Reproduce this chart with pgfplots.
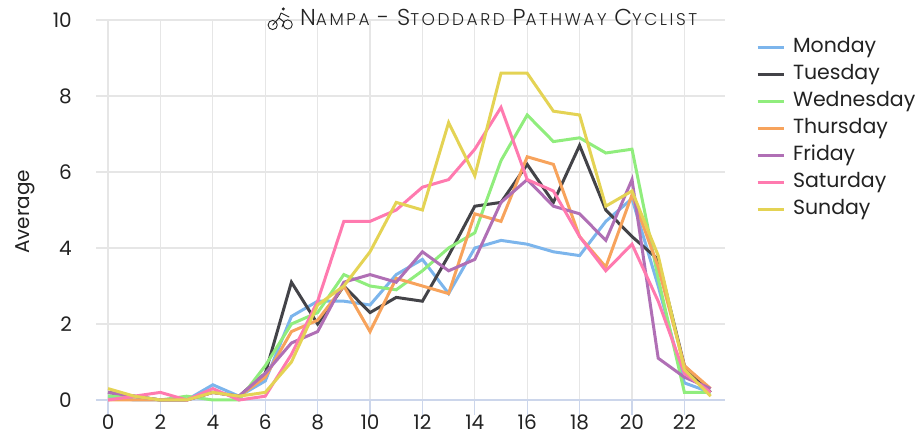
\documentclass[border=0pt]{standalone}
\usepackage{fontspec}
\usepackage{pgfplots}
\pgfplotsset{compat=1.18}
\setmainfont{Poppins}
\newfontfamily\titlefont[LetterSpace=15]{Poppins Light}
\definecolor{mon}{HTML}{7CB5EC}
\definecolor{tue}{HTML}{434348}
\definecolor{wed}{HTML}{90ED7D}
\definecolor{thu}{HTML}{F7A35C}
\definecolor{fri}{HTML}{B06FB5}
\definecolor{sat}{HTML}{FF7AAF}
\definecolor{sun}{HTML}{E4D354}
\definecolor{gridc}{HTML}{E6E6E6}
\definecolor{axisc}{HTML}{CCD6EB}
\definecolor{txt}{HTML}{222222}
\newcommand{\T}[1]{{\fontsize{23}{20}\selectfont #1}}
\newcommand{\s}[1]{{\fontsize{17}{20}\selectfont #1}}
\begin{document}
\begin{tikzpicture}[x=1pt,y=1pt]
\useasboundingbox (0,0) rectangle (923,435);
\begin{axis}[
  at={(96pt,35pt)}, anchor=south west,
  scale only axis, width=629pt, height=380pt,
  xmin=-0.46, xmax=23.55, ymin=0, ymax=10,
  xtick={0,2,...,22}, ytick={0,2,...,10},
  grid=major, major grid style={gridc,line width=1.2pt},
  axis x line*=bottom, axis y line*=left,
  x axis line style={draw=axisc,line width=1.2pt,-},
  y axis line style={draw=none},
  x tick style={draw=axisc,line width=1.2pt},
  y tick style={draw=none},
  major tick length=15pt,
  xtick align=outside,
  x tick label style={font=\fontsize{20}{20}\selectfont,text=txt,inner sep=0pt,yshift=0.5pt},
  y tick label style={font=\fontsize{20}{20}\selectfont,text=txt,inner sep=0pt,xshift=-24pt},
  /pgf/number format/assume math mode=true,
  every axis y label/.style={at={(axis description cs:0,0.5)},rotate=90,yshift=71pt,xshift=-2pt,font=\fontsize{20}{20}\selectfont,text=txt,anchor=center},
  ylabel={Average},
  clip=false,
  legend cell align=left,
  legend style={at={(660pt,380pt-17pt)},anchor=north west,draw=none,fill=none,inner sep=0pt,outer sep=0pt,
     font=\fontsize{20.5}{20}\selectfont, row sep=5pt,
     nodes={text=txt,inner sep=1pt,text height=15pt,text depth=5pt}},
  legend image code/.code={\draw[#1,line width=3pt] (0pt,0pt)--(26pt,0pt);\path (33pt,0pt);},
  every axis plot/.append style={line width=3pt,line join=miter,no markers},
]
\addplot[mon] coordinates {(0,0.1)(1,0)(2,0)(3,0)(4,0.4)(5,0.1)(6,0.5)(7,2.2)(8,2.6)(9,2.6)(10,2.5)(11,3.3)(12,3.7)(13,2.8)(14,4.0)(15,4.2)(16,4.1)(17,3.9)(18,3.8)(19,4.7)(20,5.3)(21,3.0)(22,0.45)(23,0.2)};
\addplot[tue] coordinates {(0,0.2)(1,0.1)(2,0)(3,0)(4,0.2)(5,0.1)(6,0.7)(7,3.1)(8,2.0)(9,3.0)(10,2.3)(11,2.7)(12,2.6)(13,3.8)(14,5.1)(15,5.2)(16,6.2)(17,5.2)(18,6.7)(19,5.0)(20,4.3)(21,3.7)(22,0.9)(23,0.2)};
\addplot[wed] coordinates {(0,0.1)(1,0.1)(2,0)(3,0.1)(4,0)(5,0)(6,0.9)(7,2.0)(8,2.3)(9,3.3)(10,3.0)(11,2.9)(12,3.4)(13,4.0)(14,4.4)(15,6.3)(16,7.5)(17,6.8)(18,6.9)(19,6.5)(20,6.6)(21,3.2)(22,0.2)(23,0.2)};
\addplot[thu] coordinates {(0,0)(1,0)(2,0)(3,0)(4,0.2)(5,0.1)(6,0.6)(7,1.8)(8,2.1)(9,3.0)(10,1.8)(11,3.2)(12,3.0)(13,2.8)(14,4.9)(15,4.7)(16,6.4)(17,6.2)(18,4.3)(19,3.5)(20,5.4)(21,3.5)(22,0.9)(23,0.3)};
\addplot[fri] coordinates {(0,0.2)(1,0.1)(2,0)(3,0)(4,0.2)(5,0.1)(6,0.7)(7,1.5)(8,1.8)(9,3.1)(10,3.3)(11,3.1)(12,3.9)(13,3.4)(14,3.7)(15,5.2)(16,5.8)(17,5.1)(18,4.9)(19,4.2)(20,5.8)(21,1.1)(22,0.6)(23,0.3)};
\addplot[sat] coordinates {(0,0)(1,0.1)(2,0.2)(3,0)(4,0.3)(5,0)(6,0.1)(7,1.2)(8,2.6)(9,4.7)(10,4.7)(11,5.0)(12,5.6)(13,5.8)(14,6.6)(15,7.7)(16,5.8)(17,5.5)(18,4.3)(19,3.4)(20,4.1)(21,2.6)(22,0.7)(23,0.2)};
\addplot[sun] coordinates {(0,0.3)(1,0.1)(2,0)(3,0)(4,0.2)(5,0.1)(6,0.2)(7,1.0)(8,2.5)(9,3.0)(10,3.9)(11,5.2)(12,5.0)(13,7.3)(14,5.9)(15,8.6)(16,8.6)(17,7.6)(18,7.5)(19,5.1)(20,5.5)(21,3.8)(22,0.8)(23,0.1)};
\legend{Monday,Tuesday,Wednesday,Thursday,Friday,Saturday,Sunday}
\end{axis}
\node[anchor=base west,inner sep=0pt,text=txt] at (300,409) {\titlefont\T{N}\s{AMPA}\hspace{3.5pt} \T{-}\hspace{3.5pt} \T{S}\s{TODDARD}\hspace{3.5pt} \T{P}\s{ATHWAY}\hspace{3.5pt} \T{C}\s{YCLIST}};
% bicycle icon
\begin{scope}[draw=txt,line width=0.9pt,line join=round,line cap=round]
\draw (272.7,410) circle (4.6);
\draw (287.7,410.5) circle (4.6);
\fill[txt] (283.3,426) circle (1.7);
\draw (272.7,410) -- (279,417) -- (281,422) -- (285,420) -- (289,418);
\draw (279,417) -- (284,413) -- (282,408);
\end{scope}
\end{tikzpicture}
\end{document}
